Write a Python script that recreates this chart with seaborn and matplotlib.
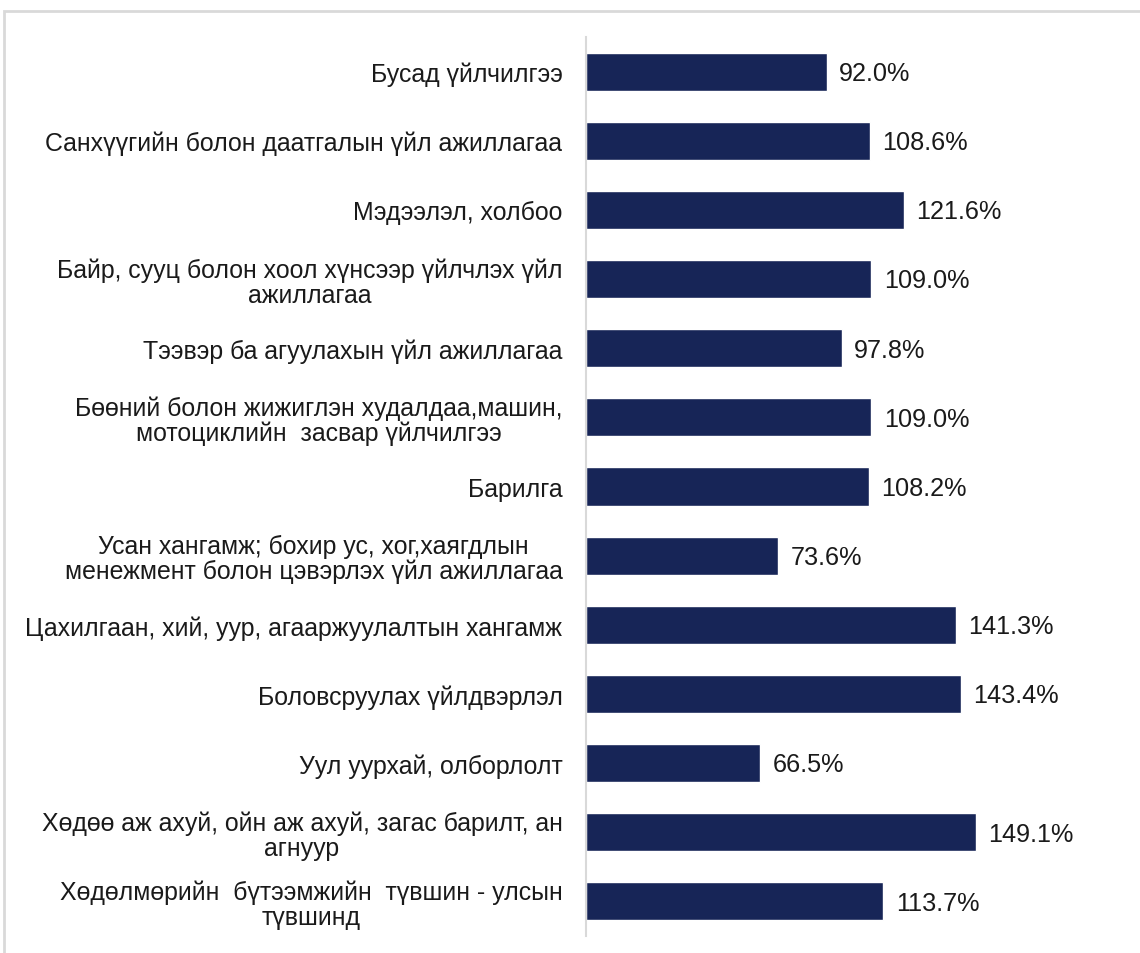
import matplotlib
matplotlib.use('Agg')
import matplotlib.pyplot as plt
import seaborn as sns
import pandas as pd
from matplotlib.patches import Rectangle

# Chart data
categories = [
    'Бусад үйлчилгээ',
    'Санхүүгийн болон даатгалын үйл ажиллагаа',
    'Мэдээлэл, холбоо',
    'Байр, сууц болон хоол хүнсээр үйлчлэх үйл\nажиллагаа',
    'Тээвэр ба агуулахын үйл ажиллагаа',
    'Бөөний болон жижиглэн худалдаа,машин,\nмотоциклийн  засвар үйлчилгээ',
    'Барилга',
    'Усан хангамж; бохир ус, хог,хаягдлын\nменежмент болон цэвэрлэх үйл ажиллагаа',
    'Цахилгаан, хий, уур, агааржуулалтын хангамж',
    'Боловсруулах үйлдвэрлэл',
    'Уул уурхай, олборлолт',
    'Хөдөө аж ахуй, ойн аж ахуй, загас барилт, ан\nагнуур',
    'Хөдөлмөрийн  бүтээмжийн  түвшин - улсын\nтүвшинд',
]
values = [92.0, 108.6, 121.6, 109.0, 97.8, 109.0, 108.2, 73.6, 141.3, 143.4, 66.5, 149.1, 113.7]

df = pd.DataFrame({'category': categories, 'value': values})

sns.set_theme(style='white')
plt.rcParams['font.family'] = ['Liberation Sans', 'DejaVu Sans']

fig = plt.figure(figsize=(11.4, 9.54), dpi=100)
ax = fig.add_axes([586 / 1140, 1 - 937 / 954, 544 / 1140, 899 / 954])

sns.barplot(data=df, x='value', y='category', order=categories, color='#172557',
            saturation=1, width=0.55, ax=ax)

ax.set_xlim(0, 208)
ax.set_ylim(len(categories) - 0.5, -0.5)
ax.set_xlabel('')
ax.set_ylabel('')
ax.set_xticks([])

for side in ['top', 'right', 'bottom']:
    ax.spines[side].set_visible(False)
ax.spines['left'].set_color('#d9d9d9')
ax.spines['left'].set_linewidth(1.5)

ax.tick_params(axis='y', length=0, pad=17, labelsize=17.9, labelcolor='#1a1a1a')
for lbl in ax.get_yticklabels():
    lbl.set_multialignment('center')
    lbl.set_linespacing(1.05)

for i, v in enumerate(values):
    ax.text(v + 4.8, i + 0.02, f'{v:.1f}%', va='center', ha='left', fontsize=18.2, color='#1a1a1a')

# outer chart border
fig.patches.append(Rectangle((4 / 1140, -0.05), 1.2, 1 - 12 / 954 + 0.05,
                             transform=fig.transFigure, fill=False,
                             edgecolor='#d9d9d9', linewidth=2))

fig.savefig('out.png', dpi=100)
